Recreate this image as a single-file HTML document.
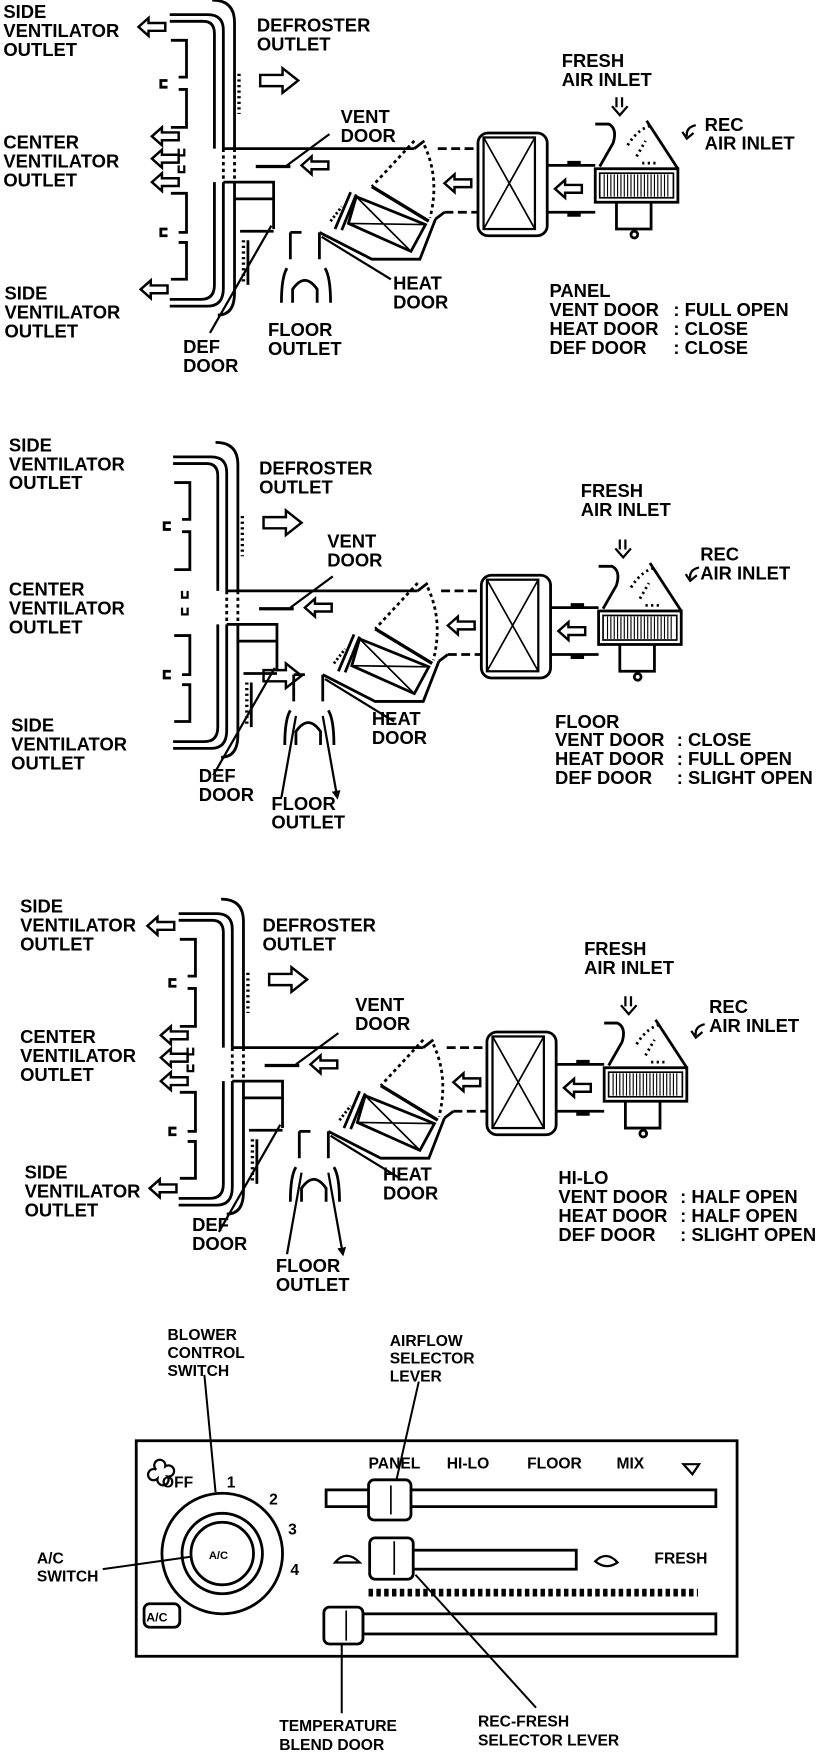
<!DOCTYPE html>
<html><head><meta charset="utf-8"><style>
html,body{margin:0;padding:0;background:#fff;}
svg{display:block}
text{font-family:"Liberation Sans",sans-serif;font-weight:bold;font-size:16.5px;fill:#000}
.p text{font-size:14px}
</style></head><body>
<svg width="832" height="1758" viewBox="0 0 745 1574" xmlns="http://www.w3.org/2000/svg">
<defs>
<marker id="ah" markerWidth="8" markerHeight="8" refX="6" refY="4" orient="auto" markerUnits="userSpaceOnUse"><path d="M0,0 L8,4 L0,8 Z" fill="#000"/></marker>
<path id="la" d="M0,0 L9,-8 V-3.5 H24 V3.5 H9 V8 Z" fill="none" stroke="#000" stroke-width="2.2"/>
<g id="dg" fill="none" stroke="#000" stroke-width="2.5">
 <path d="M190 0 Q210 0 210 20 V133"/>
 <path d="M152 13 H186 Q200 13 200 27 V133"/>
 <path d="M152 19 H182 Q192 19 192 30 V133"/>
 <path d="M192 163 V255 Q192 268 180 268 H152"/>
 <path d="M200 163 V258 Q200 274 186 274 H152"/>
 <path d="M210 178 V262 Q210 282 195 282"/>
 <path d="M153 36 H167 V69 H160 M160 80 H167 V114 H153 M153 173 H167 V208 H160 M160 217 H167 V250 H153"/>
 <path d="M150 72 H144 V78 H150 M150 205 H144 V211 H150"/>
 <path d="M160 133 v6 h5 v-6 M160 148 v6 h5 v-6" stroke-width="2"/>
 <path d="M200 133 H371"/>
 <path d="M200 133 V163 M210 133 V163" stroke-dasharray="3 3"/>
 <path d="M200 163 H245 V205 M210 163 V178 H245"/>
 <path d="M215 207 H245 M222 215 V255" />
 <path d="M214 66 V102 M218 215 V255" stroke-dasharray="2 3" stroke-width="3"/>
 <path d="M229 149 H260" stroke-width="3"/>
 <path d="M257 148 L295 120" stroke-width="2"/>
 <path d="M233 67 H253 V61 L267 72 L253 83 V77 H233 Z" stroke-width="2.2"/>
 <path d="M371 126 L333 167 M380 130 Q394 160 385 195" stroke-dasharray="3 3"/>
 <path d="M333 167 L384 198" stroke-width="3"/>
 <polygon points="319,176 381,201 368,225 312,200"/>
 <path d="M319 176 L368 225 M312 200 L381 201" stroke-width="1.5"/>
 <path d="M300 205 L314 172 M306 206 L319 174"/>
 <path d="M286 208 L333 232 H376 L390 196"/>
 <path d="M296 198 L306 185" stroke-dasharray="2 2"/>
 <path d="M371 133 L380 126 M390 196 L398 190"/>
 <path d="M392 133 H428 M398 190 H428" stroke-dasharray="8 4"/>
 <rect x="428" y="119" width="62" height="92" rx="9"/>
 <rect x="433" y="123" width="46" height="82" stroke-width="2"/>
 <path d="M433 123 L479 205 M479 123 L433 205" stroke-width="1.5"/>
 <path d="M490 148 H533 M490 190 H533" />
 <path d="M508 146 H520 M508 192 H520" stroke-width="4"/>
 <rect x="533" y="151" width="74" height="30"/>
 <rect x="537" y="155" width="66" height="22" stroke-width="1.5"/>
 <path d="M541 156V176M544 156V176M547 156V176M550 156V176M553 156V176M556 156V176M559 156V176M562 156V176M565 156V176M568 156V176M571 156V176M574 156V176M577 156V176M580 156V176M583 156V176M586 156V176M589 156V176M592 156V176M595 156V176M598 156V176" stroke-width="1"/>
 <path d="M552 181 V205 H583 V181"/>
 <circle cx="568" cy="210" r="3"/>
 <path d="M533 111 H545 Q553 115 549 128 L537 149"/>
 <path d="M579 108 L607 151" />
 <path d="M562 130 Q572 114 585 112 M570 140 L578 126 M575 146 L590 146" stroke-dasharray="2 3"/>
 <path d="M552 87 V96 M557 87 V96 M548 95 L555 103 L562 95" stroke-width="2"/>
 <path d="M623 112 Q614 114 615 122 M611 118 L615 124 L621 119" stroke-width="2"/>
 <path d="M260 208 V232 M286 208 V232 M260 208 H270" />
 <path d="M257 240 Q252 248 252 271 M291 240 Q296 248 296 271 M262 271 V259 Q273 243 284 259 V271"/>
 <path d="M350 250 L288 212" stroke-width="2"/>
 <path d="M188 298 L243 202" stroke-width="2"/>
</g>
</defs>

<use href="#dg"/>
<g>
<use href="#la" x="124" y="24"/><use href="#la" x="136" y="122"/>
<use href="#la" x="136" y="142"/><use href="#la" x="136" y="163"/><use href="#la" x="126" y="259"/>
<use href="#la" x="270" y="148"/><use href="#la" x="398" y="164"/><use href="#la" x="497" y="169"/>
<text x="3" y="16">SIDE</text><text x="3" y="33">VENTILATOR</text><text x="3" y="50">OUTLET</text>
<text x="3" y="133">CENTER</text><text x="3" y="150">VENTILATOR</text><text x="3" y="167">OUTLET</text>
<text x="4" y="268">SIDE</text><text x="4" y="285">VENTILATOR</text><text x="4" y="302">OUTLET</text>
<text x="230" y="28">DEFROSTER</text><text x="230" y="45">OUTLET</text>
<text x="305" y="110">VENT</text><text x="305" y="127">DOOR</text>
<text x="503" y="60">FRESH</text><text x="503" y="77">AIR INLET</text>
<text x="631" y="117">REC</text><text x="631" y="134">AIR INLET</text>
<text x="352" y="259">HEAT</text><text x="352" y="276">DOOR</text>
<text x="240" y="301">FLOOR</text><text x="240" y="318">OUTLET</text>
<text x="164" y="316">DEF</text><text x="164" y="333">DOOR</text>
<text x="492" y="266">PANEL</text>
<text x="492" y="283">VENT DOOR</text><text x="603" y="283">: FULL OPEN</text>
<text x="492" y="300">HEAT DOOR</text><text x="603" y="300">: CLOSE</text>
<text x="492" y="317">DEF DOOR</text><text x="603" y="317">: CLOSE</text>
</g>

<g transform="translate(3,396)"><use href="#dg"/>
<use href="#la" x="270" y="148"/><use href="#la" x="398" y="164"/><use href="#la" x="497" y="169"/>
<path d="M233 204 H253 V198 L267 209 L253 220 V214 H233 Z" fill="none" stroke="#000" stroke-width="2.2"/>
<path d="M262 245 L249 318 M286 245 L299 318" fill="none" stroke="#000" stroke-width="2" marker-end="url(#ah)"/>
</g>
<text x="8" y="404">SIDE</text><text x="8" y="421">VENTILATOR</text><text x="8" y="438">OUTLET</text>
<text x="8" y="533">CENTER</text><text x="8" y="550">VENTILATOR</text><text x="8" y="567">OUTLET</text>
<text x="10" y="655">SIDE</text><text x="10" y="672">VENTILATOR</text><text x="10" y="689">OUTLET</text>
<text x="232" y="425">DEFROSTER</text><text x="232" y="442">OUTLET</text>
<text x="293" y="490">VENT</text><text x="293" y="507">DOOR</text>
<text x="520" y="445">FRESH</text><text x="520" y="462">AIR INLET</text>
<text x="627" y="502">REC</text><text x="627" y="519">AIR INLET</text>
<text x="333" y="649">HEAT</text><text x="333" y="666">DOOR</text>
<text x="178" y="700">DEF</text><text x="178" y="717">DOOR</text>
<text x="243" y="725">FLOOR</text><text x="243" y="742">OUTLET</text>
<text x="497" y="652">FLOOR</text>
<text x="497" y="668">VENT DOOR</text><text x="606" y="668">: CLOSE</text>
<text x="497" y="685">HEAT DOOR</text><text x="606" y="685">: FULL OPEN</text>
<text x="497" y="702">DEF DOOR</text><text x="606" y="702">: SLIGHT OPEN</text>

<g transform="translate(8,805)"><use href="#dg"/>
<use href="#la" x="124" y="24"/><use href="#la" x="136" y="122"/><use href="#la" x="136" y="142"/><use href="#la" x="136" y="163"/><use href="#la" x="126" y="259"/>
<use href="#la" x="270" y="148"/><use href="#la" x="398" y="164"/><use href="#la" x="497" y="169"/>
<path d="M262 245 L249 318 M286 245 L299 318" fill="none" stroke="#000" stroke-width="2" marker-end="url(#ah)"/>
</g>
<text x="18" y="817">SIDE</text><text x="18" y="834">VENTILATOR</text><text x="18" y="851">OUTLET</text>
<text x="18" y="934">CENTER</text><text x="18" y="951">VENTILATOR</text><text x="18" y="968">OUTLET</text>
<text x="22" y="1055">SIDE</text><text x="22" y="1072">VENTILATOR</text><text x="22" y="1089">OUTLET</text>
<text x="235" y="834">DEFROSTER</text><text x="235" y="851">OUTLET</text>
<text x="318" y="905">VENT</text><text x="318" y="922">DOOR</text>
<text x="523" y="855">FRESH</text><text x="523" y="872">AIR INLET</text>
<text x="635" y="907">REC</text><text x="635" y="924">AIR INLET</text>
<text x="343" y="1057">HEAT</text><text x="343" y="1074">DOOR</text>
<text x="172" y="1102">DEF</text><text x="172" y="1119">DOOR</text>
<text x="247" y="1139">FLOOR</text><text x="247" y="1156">OUTLET</text>
<text x="500" y="1060">HI-LO</text>
<text x="500" y="1077">VENT DOOR</text><text x="609" y="1077">: HALF OPEN</text>
<text x="500" y="1094">HEAT DOOR</text><text x="609" y="1094">: HALF OPEN</text>
<text x="500" y="1111">DEF DOOR</text><text x="609" y="1111">: SLIGHT OPEN</text>

<g fill="none" stroke="#000" stroke-width="2.5">
<rect x="122" y="1290" width="538" height="193"/>
<path d="M183 1231 L193 1336 M375 1237 L355 1325 M92 1405 L170 1394 M306 1472 V1534 M372 1410 L480 1529" stroke-width="1.8"/>
<circle cx="199" cy="1391" r="54"/>
<circle cx="199" cy="1391" r="36"/>
<circle cx="199" cy="1391" r="28"/>
<rect x="292" y="1334" width="349" height="15"/>
<rect x="330" y="1325" width="38" height="36" rx="5" fill="#fff"/>
<path d="M350 1330 V1356" stroke-width="1.5"/>
<rect x="368" y="1388" width="148" height="17"/>
<rect x="331" y="1377" width="39" height="37" rx="5" fill="#fff"/>
<path d="M353 1380 V1410" stroke-width="1.5"/>
<rect x="325" y="1445" width="316" height="18"/>
<rect x="290" y="1439" width="35" height="33" rx="5" fill="#fff"/>
<path d="M310 1442 V1469" stroke-width="1.5"/>
<rect x="129" y="1436" width="32" height="21" rx="5"/>
<path d="M300 1399 Q310 1387 322 1399 Z M533 1398 Q543 1388 553 1399 Q543 1406 533 1398 Z M612 1311 H626 L620 1320 Z" stroke-width="2"/>
<path d="M140 1316 a5 5 0 1 1 8 -3 a5 5 0 1 1 2 9 a5 5 0 1 1 -9 2 a5 5 0 1 1 -1 -8" stroke-width="2"/>
<path d="M330 1426 H625" stroke-width="7" stroke-dasharray="4 3"/>
</g>
<g class="p">
<text x="150" y="1200">BLOWER</text><text x="150" y="1216">CONTROL</text><text x="150" y="1232">SWITCH</text>
<text x="349" y="1205">AIRFLOW</text><text x="349" y="1221">SELECTOR</text><text x="349" y="1237">LEVER</text>
<text x="330" y="1315">PANEL</text><text x="400" y="1315">HI-LO</text><text x="472" y="1315">FLOOR</text><text x="552" y="1315">MIX</text>
<text x="145" y="1332">OFF</text><text x="203" y="1332">1</text><text x="241" y="1347">2</text><text x="258" y="1374">3</text><text x="260" y="1410">4</text>
<text x="187" y="1396" style="font-size:10px">A/C</text>
<text x="131" y="1452" style="font-size:11px">A/C</text>
<text x="33" y="1400">A/C</text><text x="33" y="1416">SWITCH</text>
<text x="586" y="1400">FRESH</text>
<text x="250" y="1550">TEMPERATURE</text><text x="250" y="1567">BLEND DOOR</text>
<text x="428" y="1546">REC-FRESH</text><text x="428" y="1563">SELECTOR LEVER</text>
</g>
</svg>
</body></html>
